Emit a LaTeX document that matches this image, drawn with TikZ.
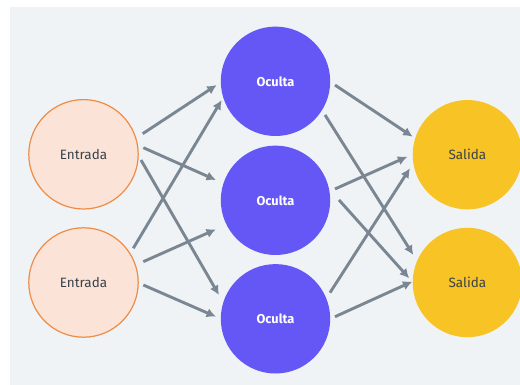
\documentclass[tikz,border=0pt]{standalone}
\usepackage{fontspec}
\setmainfont{Fira Sans}
\usepackage{xcolor}
\usepackage{tikz}
\usetikzlibrary{calc, arrows.meta}

\definecolor{fondo}{HTML}{EFF3F6}
\definecolor{flecha}{HTML}{7A8792}
\definecolor{entradaborde}{HTML}{EE8B45}
\definecolor{entradafondo}{HTML}{FBE4D7}
\definecolor{ocultafondo}{HTML}{6457F5}
\definecolor{salidafondo}{HTML}{F7C325}
\definecolor{texto}{HTML}{3A424B}

\tikzset{
    neurona/.style={circle, minimum size=109.4pt, inner sep=0pt, font=\fontsize{13.5}{15}\selectfont},
    entrada/.style={neurona, draw=entradaborde, line width=1.2pt, fill=entradafondo, text=texto},
    oculta/.style={neurona, fill=ocultafondo, text=white, font=\fontsize{12.8}{15}\selectfont\bfseries},
    salida/.style={neurona, fill=salidafondo, text=texto},
    enlace/.style={draw=flecha, line width=2.9pt, -{Latex[length=9.5pt, width=9.5pt]}}
}

\begin{document}
\begin{tikzpicture}[x=1pt, y=1pt]
    % Fondo
    \useasboundingbox (0,0) rectangle (520,-385);
    \fill[fondo] (10,-7) rectangle (520,-385);

    % Capas
    \node[entrada] (e1) at (83.5,-154.3) {Entrada};
    \node[entrada] (e2) at (83.5,-282.5) {Entrada};
    \node[oculta] (o1) at (275.5,-81.3) {Oculta};
    \node[oculta] (o2) at (275.5,-200.3) {Oculta};
    \node[oculta] (o3) at (275.5,-318.8) {Oculta};
    \node[salida] (s1) at (467.4,-154.7) {Salida};
    \node[salida] (s2) at (467.4,-282.5) {Salida};

    % Entrada -> Oculta
    \draw[enlace] ($(e1)+(19.2:62.7)$) -- ($(o1)+(183.6:58.9)$);
    \draw[enlace] ($(e1)+(6.3:60.2)$) -- ($(o2)+(161.2:62.9)$);
    \draw[enlace] ($(e1)+(-5.7:57.8)$) -- ($(o3)+(157.2:61.3)$);
    \draw[enlace] ($(e2)+(34.5:60.4)$) -- ($(o1)+(199.2:57)$);
    \draw[enlace] ($(e2)+(19.2:63.3)$) -- ($(o2)+(206:66.2)$);
    \draw[enlace] ($(e2)+(-2.4:59.9)$) -- ($(o3)+(178:59.5)$);

    % Oculta -> Salida
    \draw[enlace] ($(o1)+(-3.6:59.6)$) -- ($(s1)+(161.8:57.6)$);
    \draw[enlace] ($(o1)+(-34.2:59.9)$) -- ($(s2)+(153:60.7)$);
    \draw[enlace] ($(o2)+(10.8:60.6)$) -- ($(s1)+(181.9:60.1)$);
    \draw[enlace] ($(o2)+(0.3:63.5)$) -- ($(s2)+(175.9:58.3)$);
    \draw[enlace] ($(o3)+(25.6:60.4)$) -- ($(s1)+(193.3:59)$);
    \draw[enlace] ($(o3)+(2:59.5)$) -- ($(s2)+(179:55)$);
\end{tikzpicture}
\end{document}
